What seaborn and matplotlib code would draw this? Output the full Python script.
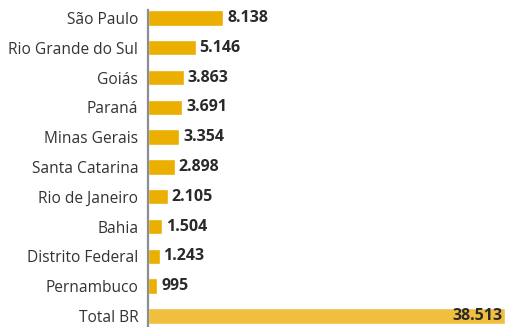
import pandas as pd
import matplotlib.pyplot as plt
import seaborn as sns

# -------------------------------
# Data
# -------------------------------
estados = ['São Paulo', 'Rio Grande do Sul', 'Goiás', 'Paraná', 'Minas Gerais',
           'Santa Catarina', 'Rio de Janeiro', 'Bahia', 'Distrito Federal',
           'Pernambuco', 'Total BR']
valores = [8138, 5146, 3863, 3691, 3354, 2898, 2105, 1504, 1243, 995, 38513]

df = pd.DataFrame({'Estado': estados, 'Valor': valores})

sns.set_style('white')
plt.rcParams['font.family'] = ['Open Sans', 'DejaVu Sans']

cores = ['#EAAF00'] * (len(estados) - 1) + ['#F0BF40']

fig = plt.figure(figsize=(5.07, 3.27), dpi=100)
ax = fig.add_axes([148 / 507, 0, 1 - 148 / 507, 1])

sns.barplot(data=df, x='Valor', y='Estado', hue='Estado', palette=cores,
            saturation=1, legend=False, orient='h', width=0.52, ax=ax)


def fmt(v):
    return f'{v:,}'.replace(',', '.')


for i, v in enumerate(valores):
    if i == len(valores) - 1:
        ax.text(v - 250, i, fmt(v), ha='right', va='center', fontsize=11.5,
                fontweight='bold', color='#2a2a2a')
    else:
        ax.text(v + 420, i, fmt(v), ha='left', va='center', fontsize=11.5,
                fontweight='bold', color='#2a2a2a')

ax.set_xlim(0, 38730)
ax.set_ylim(10.37, -0.6)
ax.set_xlabel('')
ax.set_ylabel('')
ax.set_xticks([])
ax.tick_params(axis='y', length=0, pad=7, labelsize=11.2, labelcolor='#333333')

for s in ['top', 'right', 'bottom']:
    ax.spines[s].set_visible(False)
ax.spines['left'].set_color('#8a8f96')
ax.spines['left'].set_linewidth(1.6)
ax.spines['left'].set_bounds(-0.28, 10.37)

fig.savefig('out.png', dpi=100)
